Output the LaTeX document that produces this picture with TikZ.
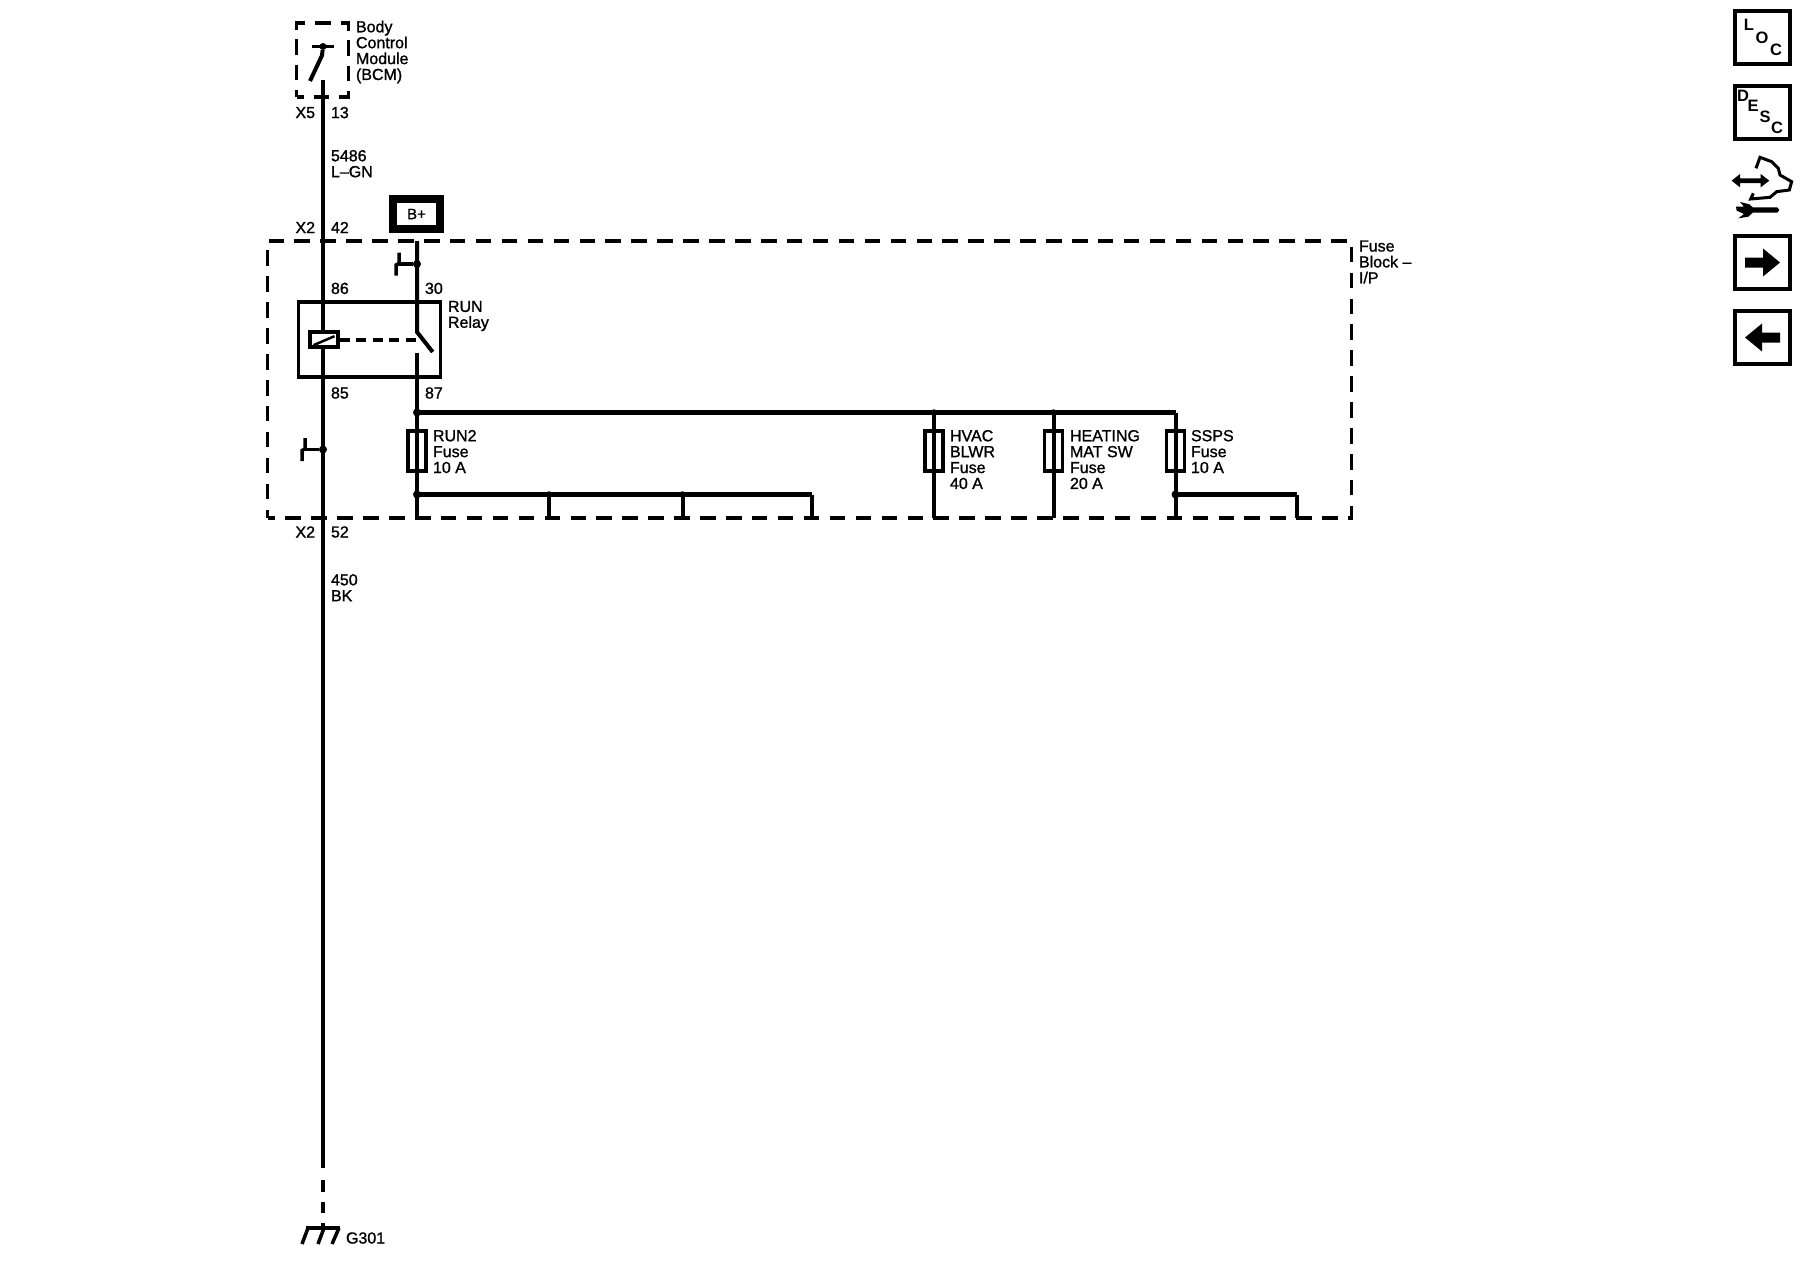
\documentclass[tikz,border=0pt]{standalone}
\usepackage{fontspec}
\newfontfamily\wirefont{Liberation Sans}[FakeBold=1.2]
\newfontfamily\iconfont{Liberation Sans Bold}
\begin{document}
\begin{tikzpicture}[x=1pt,y=-1pt,inner sep=0pt,outer sep=0pt,line width=4pt,
wire/.style={line width=4pt},
thickbus/.style={line width=5pt},
dot/.style={circle,fill,minimum size=8pt},
fuse/.style={draw,rectangle,line width=3.5pt,minimum width=18pt,minimum height=40pt},
dashbox/.style={draw,rectangle,line width=3.5pt,dash phase=8pt},
iconbox/.style={draw,rectangle,line width=4pt,minimum width=55pt,minimum height=53pt},
lbl/.style={anchor=west,align=left,font=\wirefont\fontsize{16}{15.9}\selectfont},
letter/.style={font=\iconfont\fontsize{16.5}{16.5}\selectfont}]
\useasboundingbox (0,0) rectangle (1800,1280);
% module and fuse block
\draw (322.5,60) node[dashbox,dash pattern=on 15.5pt off 9.8pt,minimum width=52pt,minimum height=74pt] (bcm) {};
\draw (809.5,379.5) node[dashbox,dash pattern=on 15.5pt off 10.42pt,minimum width=1084pt,minimum height=277pt] (block) {};
\draw (369.5,339.5) node[draw,rectangle,line width=3.5pt,minimum width=142pt,minimum height=75pt] (relay) {};
\draw (416.5,214) node[draw,rectangle,line width=8pt,minimum width=47pt,minimum height=30pt,font=\wirefont\fontsize{15}{15}\selectfont] (bplus) {B+};
% main wire
\coordinate (wiretop) at (323,80);
\coordinate (wireend) at (323,1168);
\coordinate (gnd) at (323,1228);
\draw[wire] (wiretop) -- (wireend);
\draw[wire,dash pattern=on 11.5pt off 10pt] (wireend) ++(0,12) -- (gnd);
\draw (323.5,339.7) node[draw,rectangle,fill=white,line width=4pt,minimum width=28pt,minimum height=15pt] (coil) {};
\draw[line width=2.5pt] (coil.-150) ++(3,-2) -- ++(21,-9);
\draw[line width=4pt,dash pattern=on 10pt off 6.5pt] (coil.0) ++(2,0) -- (416,339.7);
% output switch inside the module
\draw (323,46.5) node[dot,minimum size=7pt] (bcmpivot) {};
\draw[line width=3.5pt] (bcmpivot) ++(-11,0) -- ++(22,0);
\draw[line width=4pt] (bcmpivot) -- ++(-1,9) -- (310,81);
% relay contact
\coordinate (contact) at (417,332);
\coordinate (contactlow) at (417,353);
\draw[wire] (417,241) -- (contact) -- (432.7,352);
\draw[wire] (contactlow) -- (417,412.5);
% bus and fuses
\coordinate (busa) at (417,412.5);
\coordinate (busb) at (934,412.5);
\coordinate (busc) at (1053.5,412.5);
\coordinate (busd) at (1175.5,412.5);
\draw[thickbus] (busa) -- (busd);
\draw (busa) node[dot] (dota) {};
\draw (busb) node[dot,minimum size=6.5pt] (dotb) {};
\draw (busc) node[dot,minimum size=6.5pt] (dotc) {};
\draw (417,451) node[fuse] (run2) {};
\draw (934,451) node[fuse] (hvac) {};
\draw (1053.5,451) node[fuse] (heat) {};
\draw (1175.5,451) node[fuse] (ssps) {};
\foreach \busname in {busa,busb,busc,busd}
  \draw[wire] (\busname) -- (\busname |- block.south);
\coordinate (lowa) at (417,494.5);
\coordinate (lowb) at (549,494.5);
\coordinate (lowc) at (682.5,494.5);
\coordinate (lowd) at (812,494.5);
\coordinate (lowe) at (1175.5,494.5);
\coordinate (lowf) at (1297,494.5);
\draw[thickbus] (lowa) -- (lowd);
\draw[thickbus] (lowe) -- (lowf);
\foreach \lowname in {lowb,lowc,lowd,lowf}
  \draw[wire] (\lowname) -- (\lowname |- block.south);
\draw (lowa) node[dot] (dotd) {};
\draw (lowb) node[dot,minimum size=6.5pt] (dote) {};
\draw (lowc) node[dot,minimum size=6.5pt] (dotf) {};
\draw (lowe) node[dot] (dotg) {};
% splice marks
\draw (417,264) node[dot] (spa) {};
\draw (323,449.5) node[dot] (spb) {};
\foreach \spname in {spa,spb} {
  \draw[line width=3.5pt] (\spname) -- ++(-20,0);
  \draw[line width=3.5pt] (\spname) ++(-18,-11.5) -- ++(0,11) -- ++(-3,1.5) -- ++(0,10.5);
}
% ground
\draw[line width=4pt] (306,1228) -- (340,1228);
\draw[line width=3.5pt] (308,1228) -- (302,1244);
\draw[line width=3.5pt] (324,1228) -- (318,1244);
\draw[line width=3.5pt] (339,1228) -- (332,1244);
% labels
\draw (356,52) node[lbl] (bcmtxt) {Body\\Control\\Module\\(BCM)};
\draw (295.5,112.6) node[lbl] (xfive) {X5};
\draw (331,112.6) node[lbl] (pthirteen) {13};
\draw (331,163.7) node[lbl] (wirea) {5486\\L–GN};
\draw (295.5,227.5) node[lbl] (xtwoa) {X2};
\draw (331,227.5) node[lbl] (pfortytwo) {42};
\draw (331,288.4) node[lbl] (peightysix) {86};
\draw (425,288.4) node[lbl] (pthirty) {30};
\draw (448,316) node[lbl] (relaytxt) {RUN\\Relay};
\draw (331,393) node[lbl] (peightyfive) {85};
\draw (425,393) node[lbl] (peightyseven) {87};
\draw (433,451.6) node[lbl] (runtxt) {RUN2\\Fuse\\10 A};
\draw (950,459.6) node[lbl] (hvactxt) {HVAC\\BLWR\\Fuse\\40 A};
\draw (1070,459.6) node[lbl] (heattxt) {HEATING\\MAT SW\\Fuse\\20 A};
\draw (1191,451.6) node[lbl] (sspstxt) {SSPS\\Fuse\\10 A};
\draw (1359,262) node[lbl] (blocktxt) {Fuse\\Block –\\I/P};
\draw (295.5,532) node[lbl] (xtwob) {X2};
\draw (331,532) node[lbl] (pfiftytwo) {52};
\draw (331,587.7) node[lbl] (wireb) {450\\BK};
\draw (346,1238) node[lbl] (gtxt) {G301};
% icons on the right
\draw (1762.5,37) node[iconbox] (loc) {};
\draw (1762.5,112.5) node[iconbox] (desc) {};
\draw (1762.5,262.5) node[iconbox] (next) {};
\draw (1762.5,337.5) node[iconbox] (prev) {};
\draw (1749,25) node[letter] (locl) {L};
\draw (1762,38) node[letter] (loco) {O};
\draw (1776,50) node[letter] (locc) {C};
\draw (1743,96) node[letter] (descd) {D};
\draw (1753,106) node[letter] (desce) {E};
\draw (1765,117) node[letter] (descs) {S};
\draw (1777,128) node[letter] (descc) {C};
\fill (next.center) ++(-17.5,-5) -- ++(18,0) -- ++(0,-9) -- ++(17,14) -- ++(-17,14) -- ++(0,-9) -- ++(-18,0) -- cycle;
\fill (prev.center) ++(17.5,-5) -- ++(-18,0) -- ++(0,-9) -- ++(-17,14) -- ++(17,14) -- ++(0,-9) -- ++(18,0) -- cycle;
\begin{scope}[shift={(1720,150)},x=0.3333pt,y=-0.3333pt]
\draw[line width=3pt] (108,55) -- (120,22) -- (155,35) -- (175,55) -- (180,75) -- (215,95) -- (208,120) -- (170,125) -- (150,142) -- (92,147) -- (100,130);
\fill (35,92) -- (60,72) -- (60,85) -- (122,85) -- (122,72) -- (148,92) -- (122,112) -- (122,99) -- (60,99) -- (60,112) -- cycle;
\fill (60,156) -- (88,163) -- (98,172) -- (172,172) -- (178,180) -- (172,188) -- (98,188) -- (85,200) -- (55,205) -- (72,192) -- (50,182) -- (48,170) -- (72,170) -- cycle;
\end{scope}
\end{tikzpicture}
\end{document}
